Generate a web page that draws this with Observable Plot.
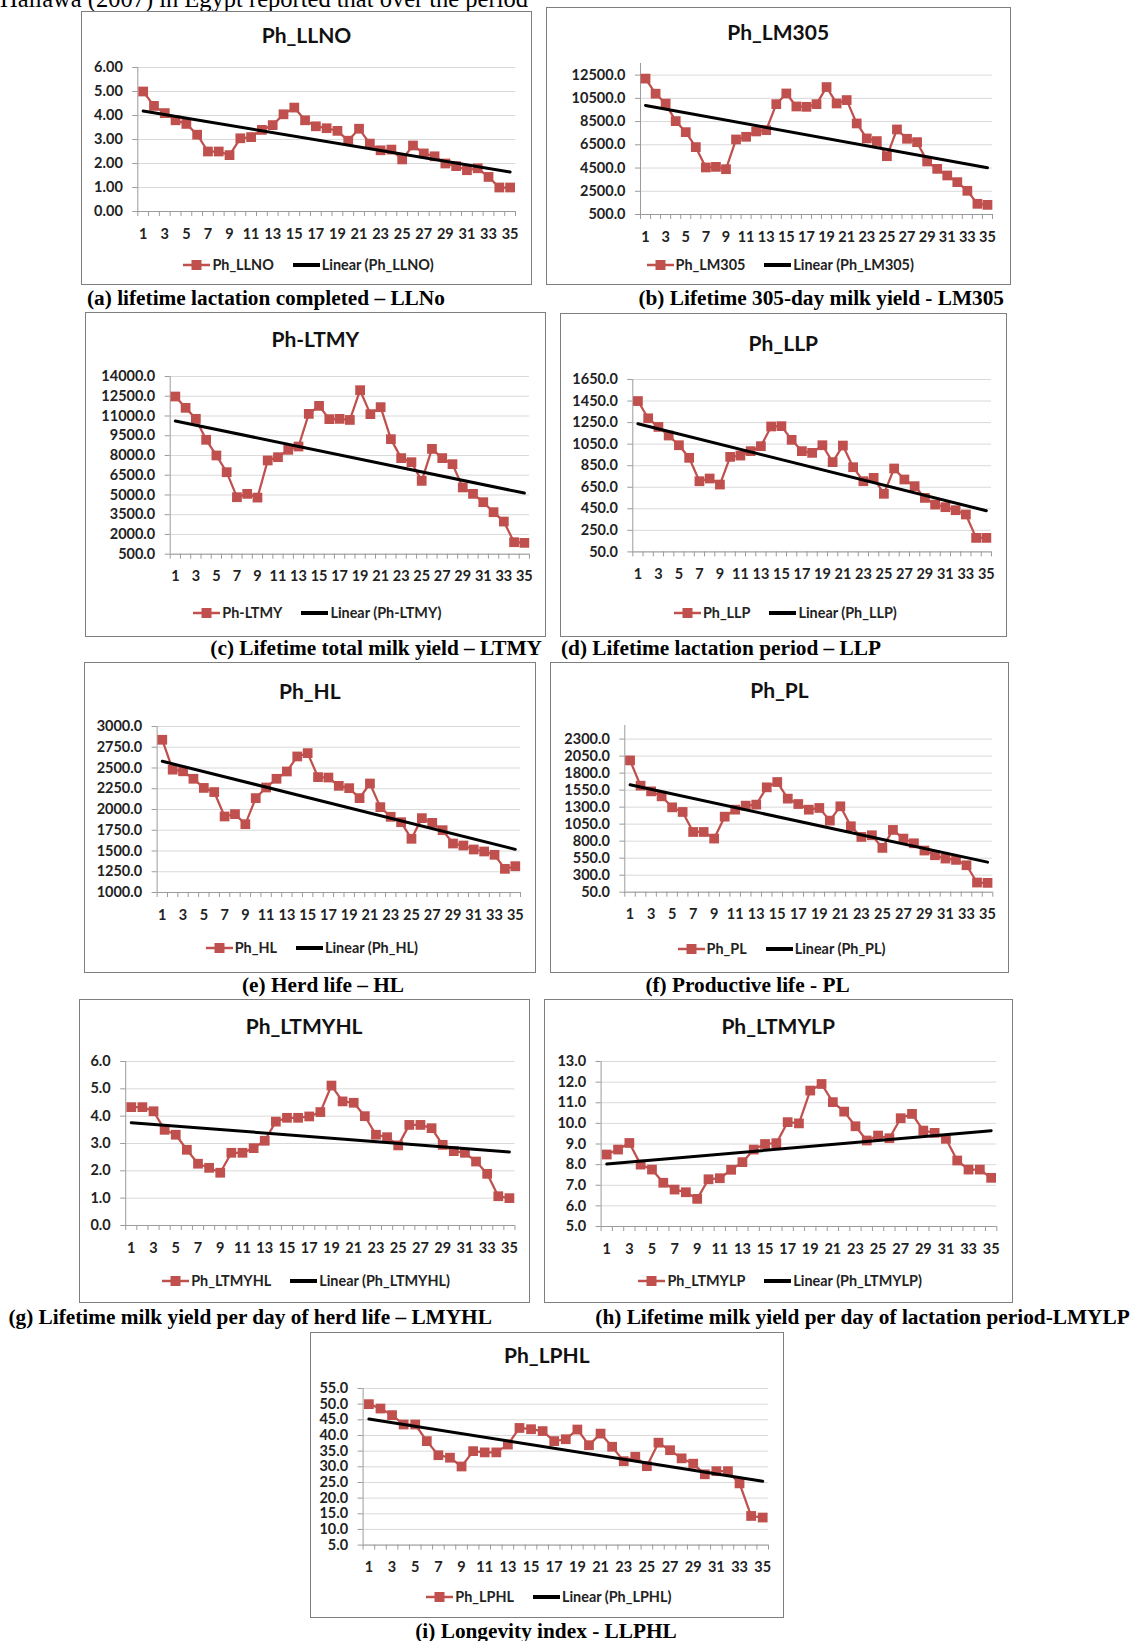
<!DOCTYPE html>
<html>
<head>
<meta charset="utf-8">
<script src="https://cdn.jsdelivr.net/npm/d3@7"></script>
<script src="https://cdn.jsdelivr.net/npm/@observablehq/plot@0.6"></script>
<style>
html,body{margin:0;padding:0;background:#fff;}
body{width:1139px;height:1641px;position:relative;overflow:hidden;}
.box{position:absolute;border:1px solid #7f7f7f;box-sizing:border-box;background:#fff;}
.title{position:absolute;text-align:center;font:700 21px Lato,sans-serif;line-height:21px;color:#111;white-space:nowrap;}
.legend{position:absolute;height:16px;display:flex;justify-content:center;align-items:center;font:700 14.4px Lato,sans-serif;line-height:16px;color:#222;white-space:nowrap;}
.legend svg{display:block;}
.cap{position:absolute;font:700 21.3px "Liberation Serif","Times New Roman",serif;line-height:21.3px;white-space:nowrap;color:#000;}
#toptext{position:absolute;left:0;top:-13.5px;font:400 24.5px "Liberation Serif","Times New Roman",serif;line-height:24.5px;white-space:nowrap;color:#000;}
.plotwrap{position:absolute;}
</style>
</head>
<body>
<div id="toptext">Hallawa (2007) in Egypt reported that over the period</div>
<script>
// ---------- data ----------
const periods = [1,2,3,4,5,6,7,8,9,10,11,12,13,14,15,16,17,18,19,20,21,22,23,24,25,26,27,28,29,30,31,32,33,34,35];
const xTickLabels = [1,3,5,7,9,11,13,15,17,19,21,23,25,27,29,31,33,35];

const llno = [5.0,4.4,4.1,3.8,3.65,3.2,2.5,2.5,2.35,3.05,3.1,3.4,3.6,4.05,4.33,3.8,3.55,3.47,3.36,2.95,3.45,2.83,2.55,2.58,2.17,2.75,2.42,2.3,2.0,1.89,1.72,1.8,1.44,1.0,1.0];
const lm305 = [12200,10900,10050,8540,7590,6300,4550,4600,4400,6960,7190,7650,7760,10000,10920,9800,9770,10000,11470,10060,10350,8340,7050,6820,5520,7820,7020,6730,5065,4430,3860,3285,2540,1420,1330];
const ltmy = [12480,11620,10780,9190,8000,6730,4830,5085,4800,7620,7870,8430,8680,11160,11770,10760,10780,10700,12960,11140,11670,9240,7800,7490,6070,8500,7800,7340,5570,5085,4450,3690,2980,1410,1360];
const llp = [1450,1290,1210,1130,1040,923,706,731,675,932,944,985,1031,1214,1217,1090,985,969,1040,883,1037,836,706,737,589,824,722,660,551,489,465,437,397,180,180];
const hl = [2840,2480,2460,2370,2260,2210,1916,1944,1823,2137,2265,2370,2458,2639,2679,2390,2385,2285,2257,2137,2313,2028,1912,1847,1647,1896,1839,1751,1590,1566,1518,1494,1454,1285,1317];
const pl = [1987,1615,1532,1459,1297,1229,935,935,838,1160,1263,1322,1337,1591,1669,1425,1346,1263,1288,1102,1312,1019,862,887,701,965,838,769,662,593,544,525,446,192,187];
const ltmyhl = [4.33,4.33,4.18,3.5,3.32,2.77,2.26,2.11,1.93,2.66,2.66,2.83,3.1,3.8,3.94,3.94,3.99,4.15,5.12,4.54,4.49,4.0,3.32,3.23,2.93,3.68,3.68,3.56,2.95,2.72,2.66,2.34,1.89,1.07,1.0];
const ltmylp = [8.49,8.73,9.05,8.0,7.76,7.12,6.79,6.66,6.34,7.29,7.34,7.75,8.12,8.73,9.0,9.04,10.06,10.0,11.59,11.91,11.03,10.57,9.86,9.17,9.41,9.28,10.25,10.46,9.65,9.54,9.25,8.2,7.76,7.76,7.36];
const lphl = [50.0,48.6,46.5,43.5,43.5,38.2,33.7,32.9,30.1,35.0,34.6,34.6,37.1,42.4,42.0,41.4,38.2,38.8,41.9,36.9,40.6,36.4,31.8,33.2,30.2,37.7,35.3,32.7,31.0,27.6,28.6,28.6,24.7,14.3,13.8];

const llnoTicks = [0,1,2,3,4,5,6];
const lm305Ticks = [500,2500,4500,6500,8500,10500,12500];
const ltmyTicks = [500,2000,3500,5000,6500,8000,9500,11000,12500,14000];
const llpTicks = [50,250,450,650,850,1050,1250,1450,1650];
const hlTicks = [1000,1250,1500,1750,2000,2250,2500,2750,3000];
const plTicks = [50,300,550,800,1050,1300,1550,1800,2050,2300];
const ltmyhlTicks = [0,1,2,3,4,5,6];
const ltmylpTicks = [5,6,7,8,9,10,11,12,13];
const lphlTicks = [5,10,15,20,25,30,35,40,45,50,55];

const llnoDomain = [0,6];
const lm305Domain = [500,13500];
const ltmyDomain = [500,14000];
const llpDomain = [50,1650];
const hlDomain = [1000,3000];
const plDomain = [50,2500];
const ltmyhlDomain = [0,6];
const ltmylpDomain = [5,13];
const lphlDomain = [5,55];

const titles = ["Ph_LLNO","Ph_LM305","Ph-LTMY","Ph_LLP","Ph_HL","Ph_PL","Ph_LTMYHL","Ph_LTMYLP","Ph_LPHL"];
const captions = [
  "(a) lifetime lactation completed – LLNo",
  "(b) Lifetime 305-day milk yield - LM305",
  "(c) Lifetime total milk yield – LTMY",
  "(d) Lifetime lactation period – LLP",
  "(e) Herd life – HL",
  "(f) Productive life - PL",
  "(g) Lifetime milk yield per day of herd life – LMYHL",
  "(h) Lifetime milk yield per day of lactation period-LMYLP",
  "(i) Longevity index - LLPHL"
];

// ---------- layout (positions only) ----------
const panels = [
  {values: llno, ticks: llnoTicks, domain: llnoDomain, digits: 2,
   box:[81,10.7,451,274.3], plot:[56.3,434,56.6,200.6], titleBase:32.3, legendMid:254, cap:{left:87, base:305.7}},
  {values: lm305, ticks: lm305Ticks, domain: lm305Domain, digits: 1,
   box:[545.7,7,465,278], plot:[94,446,56.3,207.3], titleBase:32.3, legendMid:258.3, cap:{right:1004, base:306}},
  {values: ltmy, ticks: ltmyTicks, domain: ltmyDomain, digits: 1,
   box:[85,312,460.7,325], plot:[84.7,444,64,241.7], titleBase:35, legendMid:300.7, cap:{right:542, base:656}},
  {values: llp, ticks: llpTicks, domain: llpDomain, digits: 1,
   box:[559.7,312.7,447.3,324.3], plot:[72.3,431,66.6,239], titleBase:37.6, legendMid:300, cap:{left:561, base:656}},
  {values: hl, ticks: hlTicks, domain: hlDomain, digits: 1,
   box:[83.7,662,452.3,311], plot:[72.6,436,64,230], titleBase:36.3, legendMid:286.3, cap:{center:323, base:993}},
  {values: pl, ticks: plTicks, domain: plDomain, digits: 1,
   box:[550,662,459,311], plot:[74.3,442.3,63.3,230], titleBase:35.7, legendMid:287.3, cap:{center:747.5, base:993}},
  {values: ltmyhl, ticks: ltmyhlTicks, domain: ltmyhlDomain, digits: 1,
   box:[78.5,999,451.2,304], plot:[46.2,435.5,61.7,225.7], titleBase:35, legendMid:281.7, cap:{left:8.4, base:1324.7}},
  {values: ltmylp, ticks: ltmylpTicks, domain: ltmylpDomain, digits: 1,
   box:[543.7,999,469,304], plot:[56.6,452.3,61.7,226.7], titleBase:35, legendMid:282.3, cap:{left:595.3, base:1324.7}},
  {values: lphl, ticks: lphlTicks, domain: lphlDomain, digits: 1,
   box:[309.7,1332,474.3,285.7], plot:[52.6,458,55.7,212.3], titleBase:30.7, legendMid:265, cap:{center:546, base:1639}}
];

const red = "#c0504d";
const axisColor = "#9b9b9b";
const gridColor = "#d9d9d9";
const labelColor = "#222";
const xBoundaries = periods.map(d => d - 0.5).concat([periods[periods.length - 1] + 0.5]);

function el(tag, cls, text, styles) {
  const e = document.createElement(tag);
  if (cls) e.className = cls;
  if (text != null) e.textContent = text;
  Object.assign(e.style, styles || {});
  document.body.append(e);
  return e;
}

panels.forEach((p, i) => {
  const [bx, by, bw, bh] = p.box;
  const [pL, pR, pT, pB] = p.plot;
  el("div", "box", null, {left: bx + "px", top: by + "px", width: bw + "px", height: bh + "px"});

  // title
  el("div", "title", titles[i], {left: bx + "px", width: bw + "px", top: (by + p.titleBase - 18.6) + "px"});

  // chart
  const rows = periods.map((x, k) => ({x, y: p.values[k]}));
  const mt = 12, mb = 40;
  const svg = Plot.plot({
    width: bw,
    height: (pB - pT) + mt + mb,
    marginLeft: pL, marginRight: bw - pR, marginTop: mt, marginBottom: mb,
    x: {domain: [0.5, 35.5], axis: null, label: null},
    y: {domain: p.domain, axis: null, label: null},
    style: {fontFamily: "Lato, sans-serif", fontSize: "14.5px", fontWeight: "700", background: "transparent", color: labelColor, overflow: "visible"},
    marks: [
      Plot.gridY(p.ticks, {stroke: gridColor, strokeOpacity: 1, strokeWidth: 1}),
      Plot.ruleY([p.domain[0]], {stroke: axisColor}),
      Plot.ruleX([0.5], {stroke: axisColor}),
      Plot.axisX(xBoundaries, {tickSize: 5, tickFormat: () => "", stroke: axisColor, label: null}),
      Plot.axisX(xTickLabels, {tickSize: 0, tickPadding: 17, fill: labelColor, label: null}),
      Plot.axisY(p.ticks, {tickSize: 5, tickPadding: 10, tickFormat: d => d.toFixed(p.digits), stroke: axisColor, fill: labelColor, label: null}),
      Plot.line(rows, {x: "x", y: "y", stroke: red, strokeWidth: 2.25, strokeLinejoin: "round"}),
      Plot.dot(rows, {x: "x", y: "y", symbol: "square", r: 5.5, fill: red, stroke: "none"}),
      Plot.linearRegressionY(rows, {x: "x", y: "y", stroke: "#000", strokeWidth: 3, ci: 0})
    ]
  });
  const wrap = el("div", "plotwrap", null, {left: bx + "px", top: (by + pT - mt) + "px"});
  wrap.append(svg);

  // legend
  const lg = el("div", "legend", null, {left: (bx + 2) + "px", width: bw + "px", top: (by + p.legendMid - 8) + "px"});
  lg.innerHTML =
    `<svg width="27" height="12"><line x1="0" y1="6" x2="27" y2="6" stroke="${red}" stroke-width="2.5"/><rect x="8.5" y="1" width="10" height="10" fill="${red}"/></svg>` +
    `<span style="margin-left:2px">${titles[i]}</span>` +
    `<svg width="27" height="12" style="margin-left:19px"><line x1="0" y1="6" x2="27" y2="6" stroke="#000" stroke-width="4"/></svg>` +
    `<span style="margin-left:2px">Linear (${titles[i]})</span>`;

  // caption
  const c = p.cap;
  const top = (c.base - 17.85) + "px";
  if (c.left != null) el("div", "cap", captions[i], {left: c.left + "px", top});
  else if (c.right != null) el("div", "cap", captions[i], {right: (1139 - c.right) + "px", top});
  else el("div", "cap", captions[i], {left: (c.center - 320) + "px", width: "640px", textAlign: "center", top});
});
</script>
</body>
</html>
